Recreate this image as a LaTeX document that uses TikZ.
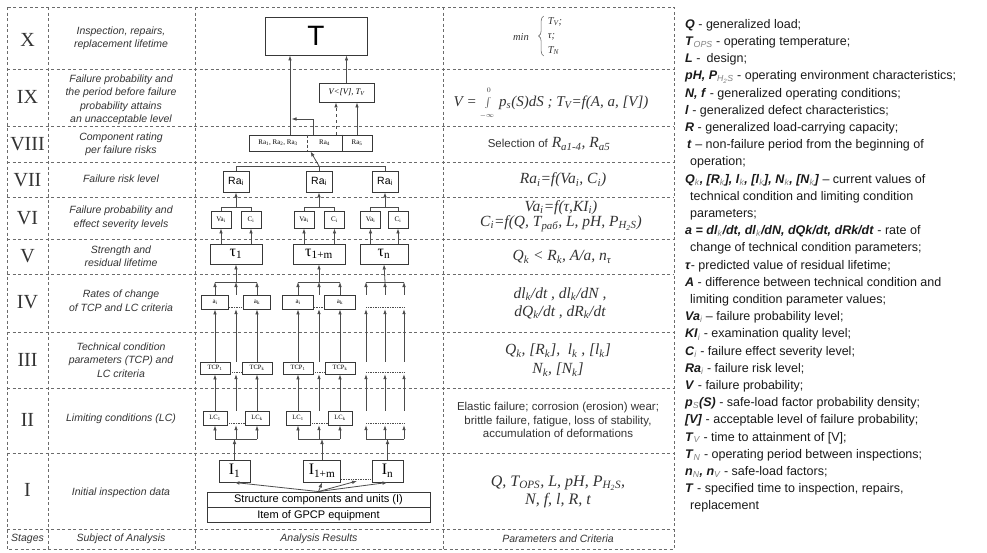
\documentclass[tikz,border=0pt]{standalone}
\usepackage{fontspec}
\setmainfont{Liberation Serif}
\setsansfont{Liberation Sans}
\usetikzlibrary{arrows.meta,positioning,decorations.pathreplacing}
\definecolor{gridgray}{gray}{0.42}
\definecolor{boxgray}{gray}{0.22}
\definecolor{arrgray}{gray}{0.3}
\definecolor{subgray}{gray}{0.5}
\newcommand{\sym}[1]{\textbf{\textit{#1}}}
\newcommand{\lsub}[1]{\textsubscript{\textcolor{subgray}{\mdseries\itshape #1}}}
\begin{document}
\begin{tikzpicture}[x=1pt, y=-1pt,
	cell/.style={draw=boxgray, line width=0.9pt, fill=white, inner sep=0pt},
	ghost/.style={inner sep=0pt, minimum width=0pt},
	flow/.style={draw=arrgray, line width=0.8pt, -{Latex[length=5pt,width=3.6pt]}},
	wire/.style={draw=arrgray, line width=0.8pt},
	dotline/.style={draw=arrgray, densely dotted, line width=0.7pt},
	rowline/.style={draw=gridgray, dash pattern=on 3pt off 2.5pt, line width=0.6pt},
	stagenum/.style={text=black!80, font=\fontsize{20}{20}\selectfont},
	subj/.style={align=center, text=black!80, font=\sffamily\itshape\fontsize{10.5}{13.5}\selectfont},
	crit/.style={align=center, text=black!80, font=\itshape\fontsize{15.5}{18}\selectfont},
	rabox/.style={cell, minimum width=26, minimum height=21, font=\sffamily\fontsize{10.5}{12}\selectfont},
	vcbox/.style={cell, minimum width=20, minimum height=17, font=\fontsize{7}{8}\selectfont},
	taubox/.style={cell, minimum width=52, minimum height=20, font=\fontsize{16}{18}\selectfont},
	abox/.style={cell, minimum width=27, minimum height=14, font=\fontsize{7}{8}\selectfont},
	tcpbox/.style={cell, minimum width=30, minimum height=12, font=\fontsize{6.5}{7}\selectfont},
	lcbox/.style={cell, minimum width=24, minimum height=14, font=\fontsize{6.5}{7}\selectfont},
	unitbox/.style={cell, minimum width=31, minimum height=22, font=\fontsize{16}{18}\selectfont},
	]
	\useasboundingbox (0,0) rectangle (987,552);

	% table grid
	\draw[rowline] (7,7) rectangle (674,549);
	\draw[rowline] (48,7) -- (48,549) (195,7) -- (195,549) (443,7) -- (443,549);
	\draw[rowline] (7,69) -- (674,69) (7,126) -- (674,126) (7,162) -- (674,162) (7,197) -- (674,197)
		(7,239) -- (674,239) (7,274) -- (674,274) (7,332) -- (674,332) (7,388) -- (674,388)
		(7,453) -- (674,453) (7,529) -- (674,529);

	% stages
	\node[stagenum] (stX) at (27.5,40) {X};
	\node[stagenum] (stIX) at (27.5,97) {IX};
	\node[stagenum] (stVIII) at (27.5,144) {VIII};
	\node[stagenum] (stVII) at (27.5,180) {VII};
	\node[stagenum] (stVI) at (27.5,218) {VI};
	\node[stagenum] (stV) at (27.5,256) {V};
	\node[stagenum] (stIV) at (27.5,302) {IV};
	\node[stagenum] (stIII) at (27.5,360) {III};
	\node[stagenum] (stII) at (27.5,420) {II};
	\node[stagenum] (stI) at (27.5,490) {I};

	% subject of analysis
	\node[subj] (subjX) at (121,38.5) {Inspection, repairs,\\replacement lifetime};
	\node[subj] (subjIX) at (121,100) {Failure probability and\\the period before failure\\probability attains\\an unacceptable level};
	\node[subj] (subjVIII) at (121,144.5) {Component rating\\per failure risks};
	\node[subj] (subjVII) at (121,179) {Failure risk level};
	\node[subj] (subjVI) at (121,218) {Failure probability and\\effect severity levels};
	\node[subj] (subjV) at (121,256) {Strength and\\residual lifetime};
	\node[subj] (subjIV) at (121,300.5) {Rates of change\\of TCP and LC criteria};
	\node[subj] (subjIII) at (121,360) {Technical condition\\parameters (TCP) and\\LC criteria};
	\node[subj] (subjII) at (121,419) {Limiting conditions (LC)};
	\node[subj] (subjI) at (121,493) {Initial inspection data};

	% column titles
	\node[subj] (hStages) at (27.5,539) {Stages};
	\node[subj] (hSubject) at (121,539) {Subject of Analysis};
	\node[subj] (hResults) at (319,539) {Analysis Results};
	\node[subj] (hParams) at (558,539) {Parameters and Criteria};

	% analysis results: top
	\node[cell, minimum width=102, minimum height=38, font=\sffamily\fontsize{28}{28}\selectfont] (T) at (316,36) {T};
	\node[cell, minimum width=55, minimum height=19, font=\itshape\fontsize{8.5}{10}\selectfont] (vlim) at (346.5,92.5) {V<[V], T\textsubscript{V}};
	\node[cell, minimum width=123, minimum height=16] (rank) at (310.5,143) {};
	\node[font=\fontsize{7}{8}\selectfont, inner sep=0pt] (rk13) at (278,143) {Ra\textsubscript{1}, Ra\textsubscript{2}, Ra\textsubscript{3}};
	\node[font=\fontsize{7}{8}\selectfont, inner sep=0pt] (rk4) at (324.5,143) {Ra\textsubscript{4}};
	\node[font=\fontsize{7}{8}\selectfont, inner sep=0pt] (rk5) at (357,143) {Ra\textsubscript{5}};
	\draw[arrgray, densely dashed, line width=0.7pt] (rank.north -| 307,0) -- (rank.south -| 307,0);
	\draw[boxgray, line width=0.9pt] (rank.north -| 342,0) -- (rank.south -| 342,0);

	% risk levels, probabilities, lifetimes
	\node[rabox] (ra1) at (236,181.5) {Ra\textsubscript{i}};
	\node[rabox] (ra2) at (319,181.5) {Ra\textsubscript{i}};
	\node[rabox] (ra3) at (385,181.5) {Ra\textsubscript{i}};
	\node[vcbox] (va1) at (221,219.5) {Va\textsubscript{i}};
	\node[vcbox] (c1) at (251,219.5) {C\textsubscript{i}};
	\node[vcbox] (va2) at (304,219.5) {Va\textsubscript{i}};
	\node[vcbox] (c2) at (334.5,219.5) {C\textsubscript{i}};
	\node[vcbox] (va3) at (370.5,219.5) {Va\textsubscript{i}};
	\node[vcbox] (c3) at (398,219.5) {C\textsubscript{i}};
	\node[taubox] (tau1) at (236,254) {τ\textsubscript{1}};
	\node[taubox] (tau2) at (319,254) {τ\textsubscript{1+m}};
	\node[taubox, minimum width=48] (tau3) at (384,254) {τ\textsubscript{n}};

	% rates of change, TCP, LC
	\node[abox] (ai1) at (215,302) {a\textsubscript{i}};
	\node[abox] (ak1) at (257,302) {a\textsubscript{k}};
	\node[abox, minimum width=31] (ai2) at (298,302) {a\textsubscript{i}};
	\node[abox, minimum width=31] (ak2) at (340,302) {a\textsubscript{k}};
	\node[tcpbox] (tcpi1) at (215,368) {TCP\textsubscript{1}};
	\node[tcpbox] (tcpk1) at (257,368) {TCP\textsubscript{k}};
	\node[tcpbox] (tcpi2) at (298,368) {TCP\textsubscript{1}};
	\node[tcpbox] (tcpk2) at (340,368) {TCP\textsubscript{k}};
	\node[lcbox] (lci1) at (215,418) {LC\textsubscript{1}};
	\node[lcbox] (lck1) at (257,418) {LC\textsubscript{k}};
	\node[lcbox] (lci2) at (298,418) {LC\textsubscript{1}};
	\node[lcbox] (lck2) at (340,418) {LC\textsubscript{k}};
	\node[ghost, minimum height=14] (ai3) at (366,302) {};
	\node[ghost, minimum height=14] (ak3) at (404,302) {};
	\node[ghost, minimum height=12] (tcpi3) at (366,368) {};
	\node[ghost, minimum height=12] (tcpk3) at (404,368) {};
	\node[ghost, minimum height=14] (lci3) at (366,418) {};
	\node[ghost, minimum height=14] (lck3) at (404,418) {};
	\node[ghost, minimum height=14] (am1) at (236,302) {};
	\node[ghost, minimum height=14] (am2) at (319,302) {};
	\node[ghost, minimum height=14] (am3) at (385,302) {};
	\node[ghost, minimum height=12] (tcpm1) at (236,368) {};
	\node[ghost, minimum height=12] (tcpm2) at (319,368) {};
	\node[ghost, minimum height=12] (tcpm3) at (385,368) {};
	\node[ghost, minimum height=14] (lcm1) at (236,418) {};
	\node[ghost, minimum height=14] (lcm2) at (319,418) {};
	\node[ghost, minimum height=14] (lcm3) at (385,418) {};

	% initial data
	\node[unitbox] (unit1) at (234.5,471) {I\textsubscript{1}};
	\node[unitbox, minimum width=37] (unit2) at (322,471) {I\textsubscript{1+m}};
	\node[unitbox] (unit3) at (387.5,471) {I\textsubscript{n}};
	\node[cell, minimum width=223, minimum height=15, font=\sffamily\fontsize{11}{12}\selectfont] (struct) at (318.5,499.5) {Structure components and units (I)};
	\node[cell, minimum width=223, minimum height=15, font=\sffamily\fontsize{11}{12}\selectfont, below=0pt of struct] (equip) {Item of GPCP equipment};

	% buses
	\coordinate (bII1) at (236,439);
	\coordinate (bII2) at (319,439);
	\coordinate (bII3) at (385,439);
	\coordinate (bIV1) at (236,282);
	\coordinate (bIV2) at (319,282);
	\coordinate (bIV3) at (385,282);
	\coordinate (bVII1) at (236,207);
	\coordinate (bVII2) at (319,207);
	\coordinate (bVII3) at (385,207);
	\coordinate (bVIII) at (319,166);
	\coordinate (gap) at (357,481);

	% connectors of the three component groups
	\foreach \k in {1,2,3}{
		\draw[flow] (unit\k.north) -- (unit\k.north |- bII\k);
		\draw[wire] (lci\k |- bII\k) -- (lck\k |- bII\k);
		\draw[flow] (lci\k |- bII\k) -- (lci\k.south);
		\draw[flow] (lck\k |- bII\k) -- (lck\k.south);
		\draw[flow] (bII\k) -- (lcm\k.south);
		\draw[flow] (lci\k.north) -- (tcpi\k.south);
		\draw[flow] (lck\k.north) -- (tcpk\k.south);
		\draw[flow] (lcm\k.north) -- (tcpm\k.south);
		\draw[flow] (tcpi\k.north) -- (ai\k.south);
		\draw[flow] (tcpk\k.north) -- (ak\k.south);
		\draw[flow] (tcpm\k.north) -- (am\k.south);
		\draw[flow] (ai\k.north) -- (ai\k.north |- bIV\k);
		\draw[flow] (ak\k.north) -- (ak\k.north |- bIV\k);
		\draw[flow] (am\k.north) -- (bIV\k);
		\draw[wire] (ai\k.north |- bIV\k) -- (ak\k.north |- bIV\k);
		\draw[flow] (bIV\k) -- (tau\k.south);
		\draw[flow] (tau\k.north -| va\k) -- (va\k.south);
		\draw[flow] (tau\k.north -| c\k) -- (c\k.south);
		\draw[wire] (va\k.north) |- (c\k.north |- bVII\k) -- (c\k.north);
		\draw[flow] (bVII\k) -- (ra\k.south);
		\draw[dotline] ([yshift=2pt]ai\k.south east) -- ([yshift=2pt]ak\k.south west);
		\draw[dotline] ([yshift=2pt]tcpi\k.south east) -- ([yshift=2pt]tcpk\k.south west);
		\draw[dotline] ([yshift=2pt]lci\k.south east) -- ([yshift=2pt]lck\k.south west);
	}
	\draw[dotline] ([yshift=3pt]unit2.south east) -- ([yshift=3pt]unit3.south west);

	% initial data fan
	\draw[flow] (struct.north) -- (unit1.south);
	\draw[flow] (struct.north) -- (unit2.south);
	\draw[flow] (struct.north) -- (gap);
	\draw[flow] (struct.north) -- (unit3.south);

	% rating and lifetime
	\draw[wire] (ra1.north) |- (ra3.north |- bVIII) -- (ra3.north);
	\draw[wire] (ra2.north) -- (bVIII);
	\draw[flow] (bVIII) -- (rank.south);
	\draw[flow] (rank.north -| 290,0) -- (T.south -| 290,0);
	\draw[flow] (rank.north -| 313,0) |- (291.5,119);
	\draw[flow, dashed] (rank.north -| 336,0) -- (vlim.south -| 336,0);
	\draw[flow] (rank.north -| 357,0) -- (vlim.south -| 357,0);
	\draw[flow] (vlim.north) -- (T.south -| vlim.north);

	% parameters and criteria
	\node[crit, font=\itshape\fontsize{10.5}{14.5}\selectfont] (critXmin) at (521,37) {min};
	\node[crit, align=left, inner sep=1pt, font=\itshape\fontsize{10.5}{14.5}\selectfont] (critXval) at (555,36) {T\textsubscript{V};\\τ;\\T\textsubscript{N}};
	\draw[gridgray, line width=0.6pt, decorate, decoration={brace, amplitude=5pt}]
		([xshift=-3pt]critXval.south west) -- ([xshift=-3pt]critXval.north west);
	\node[crit, font=\itshape\fontsize{15}{17}\selectfont] (critIX) at (551,103) {V =\;$\int\limits_{\raisebox{-3pt}{$\scriptscriptstyle-\infty$}}^{\raisebox{3pt}{$\scriptscriptstyle 0$}}$\;p\textsubscript{s}(S)dS ; T\textsubscript{V}=f(A, a, [V])};
	\node[crit] (critVIII) at (549,144) {{\upshape\sffamily\fontsize{11.5}{13}\selectfont Selection of} R\textsubscript{a1-4}, R\textsubscript{a5}};
	\node[crit] (critVII) at (563,180) {Ra\textsubscript{i}=f(Va\textsubscript{i}, C\textsubscript{i})};
	\node[crit, font=\itshape\fontsize{15.5}{15}\selectfont] (critVI) at (561,216) {Va\textsubscript{i}=f(τ,KI\textsubscript{i})\\C\textsubscript{i}=f(Q, T\textsubscript{раб}, L, pH, P\textsubscript{H\textsubscript{2}S})};
	\node[crit] (critV) at (562,257) {Q\textsubscript{k} < R\textsubscript{k}, A/a, n\textsubscript{τ}};
	\node[crit] (critIV) at (560,303) {dl\textsubscript{k}/dt , dl\textsubscript{k}/dN ,\\dQ\textsubscript{k}/dt , dR\textsubscript{k}/dt};
	\node[crit, font=\itshape\fontsize{15.5}{19}\selectfont] (critIII) at (558,360) {Q\textsubscript{k}, [R\textsubscript{k}],\enspace l\textsubscript{k} , [l\textsubscript{k}]\\N\textsubscript{k}, [N\textsubscript{k}]};
	\node[crit, font=\sffamily\fontsize{11.5}{13.3}\selectfont] (critII) at (558,420) {Elastic failure; corrosion (erosion) wear;\\brittle failure, fatigue, loss of stability,\\accumulation of deformations};
	\node[crit, font=\itshape\fontsize{16}{18.5}\selectfont] (critI) at (558,492) {Q, T\textsubscript{OPS}, L, pH, P\textsubscript{H\textsubscript{2}S},\\N, f, l, R, t};

	% legend
	\node[anchor=north west, align=left, inner sep=0pt, text=black!90, font=\sffamily\fontsize{12.5}{17.2}\selectfont] (legend) at (685,19) {%
		\sym{Q} - generalized load;\\
		\sym{T}\lsub{OPS} - operating temperature;\\
		\sym{L} -\enspace design;\\
		\sym{pH, P}\lsub{H\textsubscript{2}S} - operating environment characteristics;\\
		\sym{N, f} - generalized operating conditions;\\
		\sym{l} - generalized defect characteristics;\\
		\sym{R} - generalized load-carrying capacity;\\
		\hspace*{2pt}\sym{t} -- non-failure period from the beginning of\\
		\hspace*{5pt}operation;\\
		\sym{Q}\lsub{k}\sym{, [R}\lsub{k}\sym{], l}\lsub{k}\sym{, [l}\lsub{k}\sym{], N}\lsub{k}\sym{, [N}\lsub{k}\sym{]} -- current values of\\
		\hspace*{5pt}technical condition and limiting condition\\
		\hspace*{5pt}parameters;\\
		\sym{a = dl}\lsub{k}\sym{/dt, dl}\lsub{k}\sym{/dN, dQk/dt, dRk/dt} - rate of\\
		\hspace*{5pt}change of technical condition parameters;\\
		\sym{τ}- predicted value of residual lifetime;\\
		\sym{A} - difference between technical condition and\\
		\hspace*{5pt}limiting condition parameter values;\\
		\sym{Va}\lsub{i} -- failure probability level;\\
		\sym{KI}\lsub{i} - examination quality level;\\
		\sym{C}\lsub{i} - failure effect severity level;\\
		\sym{Ra}\lsub{i} - failure risk level;\\
		\sym{V} - failure probability;\\
		\sym{p}\lsub{S}\sym{(S)} - safe-load factor probability density;\\
		\sym{[V]} - acceptable level of failure probability;\\
		\sym{T}\lsub{V} - time to attainment of [V];\\
		\sym{T}\lsub{N} - operating period between inspections;\\
		\sym{n}\lsub{N}\sym{, n}\lsub{V} - safe-load factors;\\
		\sym{T} - specified time to inspection, repairs,\\
		\hspace*{5pt}replacement};
\end{tikzpicture}
\end{document}
